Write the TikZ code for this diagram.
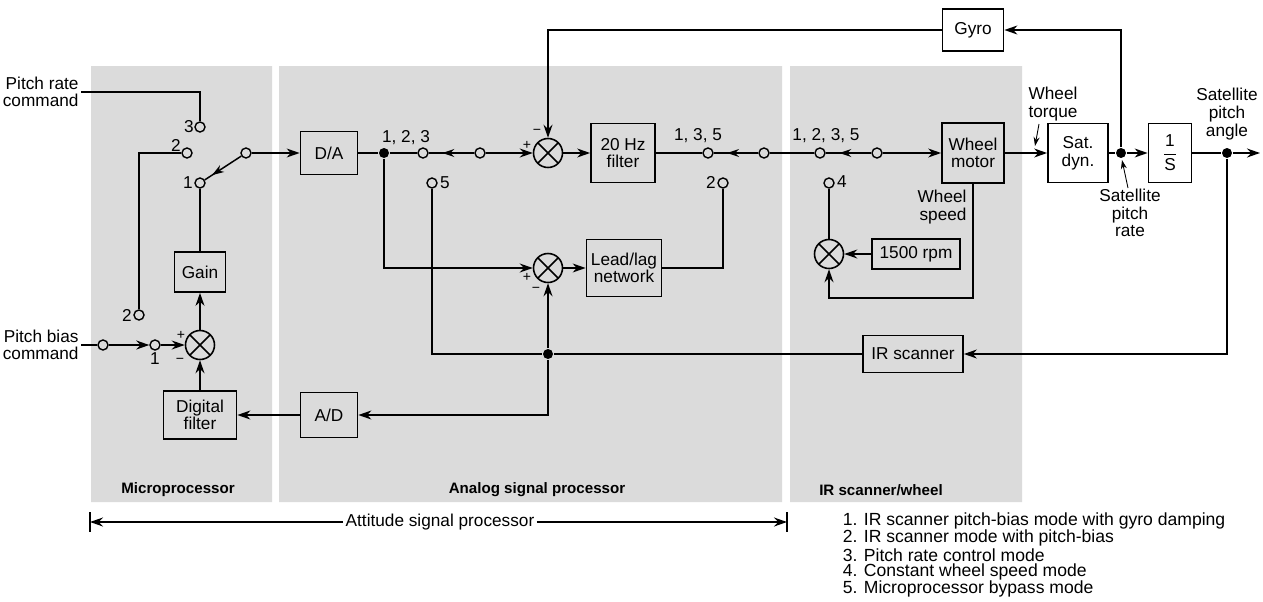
\documentclass[tikz,border=0pt]{standalone}
\usepackage{fontspec}
\setmainfont{Liberation Sans}
\usetikzlibrary{arrows.meta,decorations.markings}
\definecolor{panel}{gray}{0.86}
\tikzset{
  blk/.style 2 args={draw,line width=1pt,align=center,inner sep=1pt,minimum width=#1*0.2mm,minimum height=#2*0.2mm},
  sumj/.style={draw,circle,line width=0.9pt,minimum size=5.8mm,inner sep=0pt,
    path picture={\draw[line width=0.9pt] (path picture bounding box.south west)--(path picture bounding box.north east)
      (path picture bounding box.north west)--(path picture bounding box.south east);}},
  term/.style={draw,circle,line width=0.8pt,inner sep=0pt,minimum size=2mm},
  jdot/.style={circle,fill,inner sep=0pt,minimum size=2mm},
  lbl/.style={inner sep=1pt},
  armarrow/.style={postaction={decorate},decoration={markings,mark=at position #1 with {\arrow{Stealth[length=2.4mm,width=1.6mm]}}}},
  armarrow/.default=0.7,
  >={Stealth[length=2.6mm,width=1.8mm]},
}
\begin{document}
\begin{tikzpicture}[x=0.2mm,y=-0.2mm,line width=0.85pt,font=\fontsize{9.8}{10}\selectfont]
\useasboundingbox (0,0) rectangle (1263,601);
% panels
\fill[panel] (91,66) rectangle (272,502) (279,66) rectangle (782,502) (790,66) rectangle (1022,502);
\foreach \x/\lab [count=\i] in {178/Microprocessor,537/Analog signal processor,881/{IR scanner/wheel}}
  \node[font=\bfseries\fontsize{8.6}{9}\selectfont] (plab\i) at (\x,490) {\lab};
% blocks
\node[blk={57}{43}] (DA) at (329,153) {D/A};
\node[blk={57}{45}] (AD) at (329,415) {A/D};
\node[blk={51}{40}] (gain) at (200,272) {Gain};
\node[blk={73}{48}] (dfilt) at (200,415) {Digital\\filter};
\node[blk={64}{59}] (hz) at (623,153) {20 Hz\\filter};
\node[blk={75}{57}] (lead) at (624,268) {Lead/lag\\network};
\node[blk={62}{60}] (wm) at (973,153) {Wheel\\motor};
\node[blk={88}{30}] (rpm) at (916,254) {1500 rpm};
\node[blk={100}{37}] (ir) at (913,354) {IR scanner};
\node[blk={61}{42},fill=white] (gyro) at (973,30) {Gyro};
\node[blk={60}{59},fill=white] (sat) at (1078,153) {Sat.\\dyn.};
\node[blk={43}{59},fill=white] (inv) at (1170,153) {$\displaystyle\frac{\hbox{1}}{\hbox{S}}$};
% summing junctions
\node[sumj] (s1) at (200,345) {};
\node[sumj] (s2) at (548,153) {};
\node[sumj] (s4) at (548,268) {};
\node[sumj] (s3) at (829,254) {};
% switch terminals and junction dots
\foreach \n/\x/\y in {t3/200/127,t2/187/153,t1/200/183,p1/246/153,b0/103/345,b1/155/345,t2b/139/315,
  ta/423/153,pa/480/153,t5/432/183,tb/708/153,pb/764/153,t2c/723/183,tc/820/153,pc/877/153,t4/829/183}
  \node[term] (\n) at (\x,\y) {};
\foreach \n/\x/\y in {d1/384/153,d2/548/354,d3/1121/153,d4/1227/153}
  \node[jdot] (\n) at (\x,\y) {};
% terminal labels
\foreach \x/\y/\lab [count=\i] in {189/127/3,176/145/2,188/183/1,127/315/2,155/359/1,445/183/5,711/182/2,842/182/4}
  \node[lbl] (tl\i) at (\x,\y) {\lab};
\node[lbl] (m123) at (406,138) {1, 2, 3};
\node[lbl] (m135) at (698,136) {1, 3, 5};
\node[lbl] (m1235) at (826,136) {1, 2, 3, 5};
\foreach \x/\y/\s [count=\i] in {181/335/+,180/361/−,527/145/+,537/132/−,527/277/+,536/290/−}
  \node[lbl,font=\fontsize{8}{8}\selectfont] (sg\i) at (\x,\y) {\s};
% texts
\node[lbl,align=right,anchor=east] (ratecmd) at (81,92) {Pitch rate\\command};
\node[lbl,align=right,anchor=east] (biascmd) at (81,345) {Pitch bias\\command};
\node[lbl,align=right,anchor=east] (wspd) at (969,207) {Wheel\\speed};
\node[lbl,align=center] (wtq) at (1053,104) {Wheel\\torque};
\node[lbl,align=center] (spr) at (1130,213) {Satellite\\pitch\\rate};
\node[lbl,align=center] (spa) at (1227,114) {Satellite\\pitch\\angle};
% microprocessor
\draw (ratecmd.east) -| (t3);
\draw (t2) -| (t2b);
\draw[armarrow=0.8] (p1) -- (t1);
\draw[->] (p1) -- (DA);
\draw (t1) -- (gain);
\draw[->] (s1) -- (gain);
\draw (biascmd.east) -- (b0);
\draw[->] (b0) -- (b1);
\draw[->] (b1) -- (s1);
\draw[->] (dfilt) -- (s1);
\draw[->] (AD) -- (dfilt);
% analog signal processor
\draw (DA) -- (d1) -- (ta);
\draw[armarrow] (pa) -- (ta);
\draw[->] (pa) -- (s2);
\draw[->] (gyro) -| (s2);
\draw[->] (s2) -- (hz);
\draw (hz) -- (tb);
\draw[armarrow] (pb) -- (tb);
\draw (pb) -- (tc);
\draw (t5) |- (d2);
\draw[->] (d1) |- (s4);
\draw[->] (s4) -- (lead);
\draw (lead) -| (t2c);
\draw[->] (d2) -- (s4);
\draw[->] (d2) |- (AD);
% IR scanner / wheel
\draw[armarrow] (pc) -- (tc);
\draw[->] (pc) -- (wm);
\draw (t4) -- (s3);
\draw[->] (rpm) -- (s3);
\coordinate (wsb) at (900,298);
\draw[->] (wm) |- (wsb) -| (s3);
\draw (ir) -- (d2);
% satellite
\draw[->] (wm) -- (sat);
\draw (sat) -- (d3);
\draw[->] (d3) -- (inv);
\draw[->] (d3) |- (gyro);
\draw (inv) -- (d4);
\coordinate (out) at (1260,153);
\draw[->] (d4) -- (out);
\draw[->] (d4) |- (ir);
\coordinate (wtq0) at (1039,124); \coordinate (wtq1) at (1035,146);
\draw[-{Stealth[length=1.8mm,width=1.2mm]},line width=0.5pt] (wtq0) -- (wtq1);
\coordinate (spr0) at (1128,188); \coordinate (spr1) at (1122,160);
\draw[-{Stealth[length=1.8mm,width=1.2mm]},line width=0.5pt] (spr0) -- (spr1);
% attitude signal processor span
\node[lbl] (asp) at (440,522) {Attitude signal processor};
\coordinate (al) at (90,522); \coordinate (ar) at (787,522);
\draw[->] (asp) -- (al);
\draw[->] (asp) -- (ar);
\draw (90,512) -- (90,532) (787,512) -- (787,532);
% mode legend
\foreach \lab [count=\i] in {IR scanner pitch-bias mode with gyro damping,IR scanner mode with pitch-bias,
  Pitch rate control mode,Constant wheel speed mode,Microprocessor bypass mode}
  \node[anchor=west,inner xsep=0pt,inner ysep=0pt,font=\fontsize{10}{11}\selectfont] (leg\i) at (842,{504.5+16.8*\i}) {\i. \lab};
\end{tikzpicture}
\end{document}
